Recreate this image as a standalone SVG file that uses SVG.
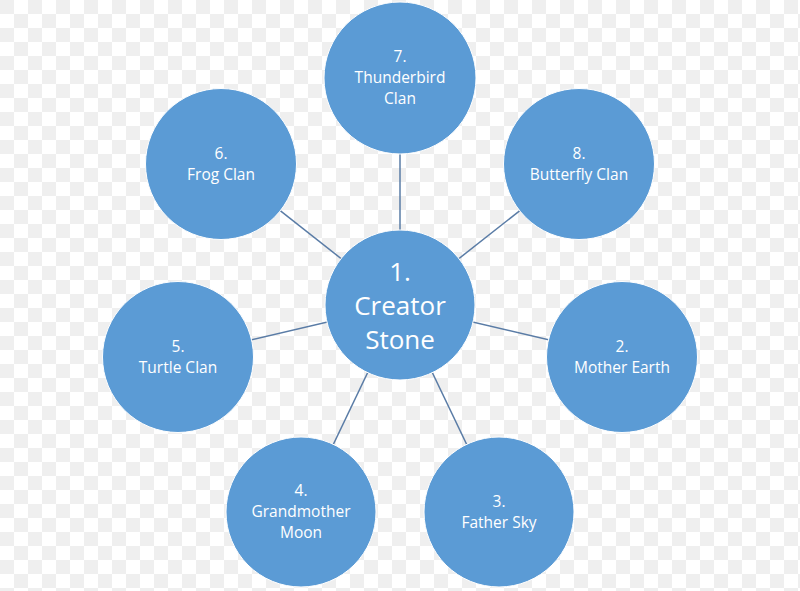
<svg xmlns="http://www.w3.org/2000/svg" width="800" height="591" viewBox="0 0 800 591">
  <defs>
    <pattern id="checker" width="28" height="28" patternUnits="userSpaceOnUse">
      <rect width="28" height="28" fill="#ffffff"/>
      <rect width="14" height="14" fill="#efefef"/>
      <rect x="14" y="14" width="14" height="14" fill="#efefef"/>
    </pattern>
  </defs>
  <style>
    .node { fill: #5b9bd5; stroke: #ffffff; stroke-width: 1; }
    .lbl { font-family: "Open Sans", "Liberation Sans", sans-serif; font-size: 15.5px; fill: #ffffff; text-anchor: middle; }
    .big { font-size: 26px; }
    .conn line { stroke: #5a7ca6; stroke-width: 1.5; }
  </style>
  <rect width="800" height="591" fill="url(#checker)"/>
  <g id="connectors" class="conn">
    <line x1="400" y1="305" x2="400" y2="78"/>
    <line x1="400" y1="305" x2="579" y2="164"/>
    <line x1="400" y1="305" x2="221" y2="164"/>
    <line x1="400" y1="305" x2="622" y2="357"/>
    <line x1="400" y1="305" x2="178" y2="357"/>
    <line x1="400" y1="305" x2="499" y2="512"/>
    <line x1="400" y1="305" x2="301" y2="512"/>
  </g>
  <g id="node1">
    <circle class="node" cx="400" cy="305" r="75"/>
    <text class="lbl big" x="400" y="281">1.</text>
    <text class="lbl big" x="400" y="315">Creator</text>
    <text class="lbl big" x="400" y="349">Stone</text>
  </g>
  <g id="node7">
    <circle class="node" cx="400" cy="78" r="76"/>
    <text class="lbl" x="400" y="62">7.</text>
    <text class="lbl" x="400" y="83">Thunderbird</text>
    <text class="lbl" x="400" y="104">Clan</text>
  </g>
  <g id="node8">
    <circle class="node" cx="579" cy="164" r="75.5"/>
    <text class="lbl" x="579" y="159">8.</text>
    <text class="lbl" x="579" y="180">Butterfly Clan</text>
  </g>
  <g id="node6">
    <circle class="node" cx="221" cy="164" r="75.5"/>
    <text class="lbl" x="221" y="159">6.</text>
    <text class="lbl" x="221" y="180">Frog Clan</text>
  </g>
  <g id="node2">
    <circle class="node" cx="622" cy="357" r="75.5"/>
    <text class="lbl" x="622" y="352">2.</text>
    <text class="lbl" x="622" y="373">Mother Earth</text>
  </g>
  <g id="node5">
    <circle class="node" cx="178" cy="357" r="75.5"/>
    <text class="lbl" x="178" y="352">5.</text>
    <text class="lbl" x="178" y="373">Turtle Clan</text>
  </g>
  <g id="node3">
    <circle class="node" cx="499" cy="512" r="75"/>
    <text class="lbl" x="499" y="507">3.</text>
    <text class="lbl" x="499" y="528">Father Sky</text>
  </g>
  <g id="node4">
    <circle class="node" cx="301" cy="512" r="75"/>
    <text class="lbl" x="301" y="496">4.</text>
    <text class="lbl" x="301" y="517">Grandmother</text>
    <text class="lbl" x="301" y="538">Moon</text>
  </g>
</svg>
